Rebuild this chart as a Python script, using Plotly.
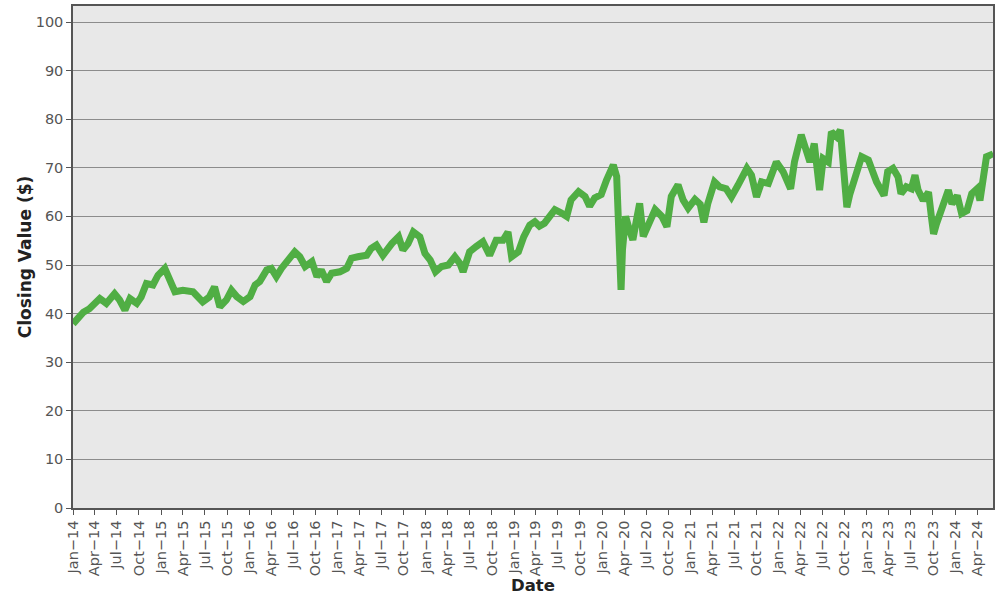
import plotly.graph_objects as go

dates = [
    "2014-01-01", "2014-02-13", "2014-03-10", "2014-04-22", "2014-05-19", "2014-06-22",
    "2014-07-13", "2014-08-04", "2014-08-25", "2014-09-22", "2014-10-10", "2014-11-01",
    "2014-11-28", "2014-12-19", "2015-01-16", "2015-02-07", "2015-02-27", "2015-04-01",
    "2015-05-13", "2015-06-22", "2015-07-19", "2015-08-10", "2015-09-01", "2015-09-28",
    "2015-10-19", "2015-11-10", "2015-12-07", "2016-01-04", "2016-01-25", "2016-02-13",
    "2016-03-13", "2016-04-01", "2016-04-22", "2016-05-13", "2016-06-10", "2016-07-07",
    "2016-07-28", "2016-08-19", "2016-09-16", "2016-10-07", "2016-10-25", "2016-11-16",
    "2016-12-07", "2017-01-10", "2017-02-07", "2017-02-27", "2017-03-25", "2017-05-01",
    "2017-05-19", "2017-06-10", "2017-07-07", "2017-08-01", "2017-08-13", "2017-09-10",
    "2017-09-28", "2017-10-19", "2017-11-10", "2017-12-07", "2017-12-28", "2018-01-19",
    "2018-02-10", "2018-03-07", "2018-04-04", "2018-05-01", "2018-05-22", "2018-06-04",
    "2018-07-01", "2018-07-28", "2018-08-25", "2018-09-22", "2018-10-19", "2018-11-16",
    "2018-12-07", "2018-12-22", "2019-01-19", "2019-02-10", "2019-03-07", "2019-03-28",
    "2019-04-16", "2019-05-07", "2019-05-28", "2019-06-19", "2019-07-16", "2019-08-07",
    "2019-08-25", "2019-09-25", "2019-10-22", "2019-11-10", "2019-12-01", "2019-12-28",
    "2020-01-19", "2020-02-16", "2020-03-01", "2020-03-07", "2020-03-13", "2020-03-19",
    "2020-03-25", "2020-04-07", "2020-04-22", "2020-05-07", "2020-05-22", "2020-06-04",
    "2020-06-19", "2020-07-10", "2020-08-07", "2020-09-04", "2020-09-25", "2020-10-13",
    "2020-11-10", "2020-12-01", "2020-12-22", "2021-01-19", "2021-02-10", "2021-02-25",
    "2021-03-13", "2021-04-10", "2021-05-01", "2021-05-28", "2021-06-19", "2021-07-16",
    "2021-08-22", "2021-09-10", "2021-10-01", "2021-10-22", "2021-11-19", "2021-12-22",
    "2022-01-19", "2022-02-19", "2022-03-07", "2022-04-04", "2022-04-25", "2022-05-10",
    "2022-05-28", "2022-06-19", "2022-07-04", "2022-07-25", "2022-08-07", "2022-08-28",
    "2022-09-13", "2022-09-25", "2022-10-10", "2022-10-22", "2022-11-07", "2022-11-25",
    "2022-12-10", "2023-01-07", "2023-01-25", "2023-02-10", "2023-03-01", "2023-03-13",
    "2023-03-28", "2023-04-19", "2023-05-10", "2023-05-22", "2023-06-13", "2023-07-04",
    "2023-07-19", "2023-08-01", "2023-08-22", "2023-09-13", "2023-09-25", "2023-10-04",
    "2023-10-16", "2023-11-07", "2023-12-04", "2023-12-19", "2024-01-10", "2024-01-28",
    "2024-02-19", "2024-03-10", "2024-04-01", "2024-04-13", "2024-04-25", "2024-05-10",
    "2024-05-25", "2024-05-31",
]

closing = [
    37.9, 40.3, 41.0, 43.1, 42.1, 44.1,
    42.8, 40.7, 43.1, 42.1, 43.4, 46.2,
    45.9, 47.9, 49.3, 46.6, 44.5, 44.8,
    44.5, 42.4, 43.4, 45.5, 41.4, 42.8,
    44.8, 43.5, 42.5, 43.5, 45.9, 46.6,
    49.0, 49.3, 47.6, 49.3, 51.0, 52.7,
    51.7, 49.7, 50.7, 47.6, 49.0, 46.6,
    48.3, 48.6, 49.3, 51.4, 51.7, 52.0,
    53.4, 54.1, 52.0, 54.1, 54.4, 55.8,
    53.1, 54.4, 56.8, 55.8, 52.4, 51.0,
    48.6, 49.7, 50.0, 51.7, 50.3, 48.6,
    52.7, 53.8, 54.8, 52.0, 55.1, 55.1,
    56.8, 51.7, 52.7, 55.8, 58.2, 58.9,
    58.0, 58.6, 60.0, 61.4, 60.7, 60.0,
    63.4, 65.1, 64.1, 62.1, 63.8, 64.5,
    67.5, 70.6, 68.2, 62.1, 54.5, 44.9,
    53.2, 60.0, 57.3, 55.2, 59.3, 62.7,
    55.9, 58.6, 61.4, 60.0, 57.9, 64.1,
    66.5, 63.4, 61.7, 63.5, 62.5, 58.8,
    62.6, 67.1, 66.1, 65.7, 64.0, 66.4,
    69.9, 68.5, 64.0, 67.1, 66.8, 71.2,
    69.2, 65.7, 71.2, 76.8, 73.0, 71.2,
    75.0, 65.4, 71.9, 71.2, 77.4, 76.4,
    77.8, 71.6, 61.9, 64.5, 66.8, 70.2,
    72.3, 71.6, 68.8, 67.1, 65.4, 64.3,
    69.2, 69.9, 68.1, 64.7, 66.1, 65.7,
    68.5, 65.4, 63.3, 65.0, 59.9, 56.4,
    58.5, 61.9, 65.4, 62.6, 64.3, 60.6,
    61.2, 64.7, 65.7, 63.3, 67.4, 72.3,
    72.6, 72.0,
]

y_ticks = [0, 10, 20, 30, 40, 50, 60, 70, 80, 90, 100]

axis_col = "#555555"
tick_font = dict(family="DejaVu Sans", size=14.5, color="#555555")

fig = go.Figure()
fig.add_trace(go.Scatter(
    x=dates, y=closing, mode="lines",
    line=dict(color="#50ae44", width=7),
    showlegend=False,
))

fig.update_layout(
    width=1000, height=600, autosize=False,
    margin=dict(l=73, r=7, t=6, b=92),
    paper_bgcolor="white",
    plot_bgcolor="#e8e8e8",
    font=dict(family="DejaVu Sans"),
)

fig.update_xaxes(
    type="date",
    range=["2014-01-01", "2024-06-06"],
    tickformat="%b\u2212%y",
    dtick="M3",
    tick0="2014-01-01",
    tickangle=-90,
    tickfont=tick_font,
    ticks="outside", ticklen=5, tickcolor=axis_col,
    showgrid=False,
    showline=True, linecolor=axis_col, linewidth=1.5, mirror=True,
    title=dict(text="<b>Date</b>", font=dict(family="DejaVu Sans", size=16.5, color="#222222"), standoff=0),
    zeroline=False,
    automargin=False,
)

fig.update_yaxes(
    range=[0, 103.3],
    tickvals=y_ticks,
    tickfont=tick_font,
    ticks="outside", ticklen=5, tickcolor=axis_col,
    showgrid=True, gridcolor="#8c8c8c", gridwidth=1,
    showline=True, linecolor=axis_col, linewidth=1.5, mirror=True,
    title=dict(text="<b>Closing Value ($)</b>", font=dict(family="DejaVu Sans", size=17, color="#222222"), standoff=0),
    zeroline=False,
    automargin=False,
)

fig.write_html("out.html", config={"displayModeBar": False},
               post_script="document.body.style.margin='0';")
